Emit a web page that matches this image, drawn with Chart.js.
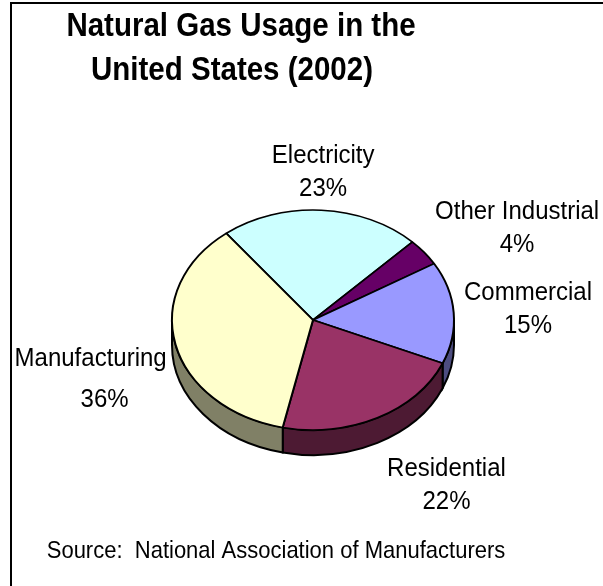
<!DOCTYPE html>
<html>
<head>
<meta charset="utf-8">
<script src="https://cdn.jsdelivr.net/npm/chart.js@4.4.1/dist/chart.umd.min.js"></script>
<style>
  html, body { margin: 0; padding: 0; background: #fff; }
  #wrap { width: 603px; height: 586px; }
</style>
</head>
<body>
<div id="wrap"><canvas id="gasChart" width="603" height="586"></canvas></div>
<script>
// 2002 natural gas usage shares (%)
const categories  = ['Electricity', 'Other Industrial', 'Commercial', 'Residential', 'Manufacturing'];
const shares      = [23, 4, 15, 22, 36];
const sliceColors = ['#CCFFFF', '#660066', '#9999FF', '#993366', '#FFFFCC'];
const titleLines  = ['Natural Gas Usage in the', 'United States (2002)'];
const sourceNote  = 'Source:  National Association of Manufacturers';

const TILT  = 0.78;   // vertical squash of the pie top
const DEPTH = 25;     // pie thickness in px
const FONT  = '"Liberation Sans", Arial, sans-serif';
const TEXT_STRETCH = 1.1;  // the original text is a bit taller than plain Arial

// label nudges relative to a point just outside each slice
const LABEL_REACH = 1.45;
const labelNudge = [
  { dx: -2,  dy: 11 },
  { dx: 43,  dy: 6 },
  { dx: 11,  dy: 0 },
  { dx: 40,  dy: 23 },
  { dx: -23, dy: 24, gap: 41, dx2: 14 }
];

function darker(hex) {
  var n = parseInt(hex.slice(1), 16);
  var r = Math.round(((n >> 16) & 255) / 2), g = Math.round(((n >> 8) & 255) / 2), b = Math.round((n & 255) / 2);
  return 'rgb(' + r + ',' + g + ',' + b + ')';
}

// parts of a slice that face the viewer (lower half of the ellipse)
function sideRanges(s, e) {
  var out = [];
  for (var k = -1; k <= 1; k++) {
    var lo = Math.max(s, 2 * Math.PI * k), hi = Math.min(e, 2 * Math.PI * k + Math.PI);
    if (hi > lo) out.push([lo, hi]);
  }
  return out;
}

function tallText(ctx, text, x, y) {
  ctx.save();
  ctx.translate(x, y);
  ctx.scale(1, TEXT_STRETCH);
  ctx.fillText(text, 0, 0);
  ctx.restore();
}

const pie3d = {
  id: 'pie3d',
  beforeDraw(chart) {
    var ctx = chart.ctx;
    ctx.save();
    ctx.fillStyle = '#fff';
    ctx.fillRect(0, 0, chart.width, chart.height);
    ctx.lineWidth = 2;
    ctx.strokeStyle = '#000';
    ctx.strokeRect(11, 3, 700, 700);
    ctx.restore();
  },
  beforeDatasetsDraw(chart) {
    var ctx = chart.ctx;
    var arcs = chart.getDatasetMeta(0).data;
    var cx = arcs[0].x, cy = arcs[0].y, r = arcs[0].outerRadius, ry = r * TILT;
    arcs.forEach(function(arc, i) {
      sideRanges(arc.startAngle, arc.endAngle).forEach(function(rg) {
        ctx.beginPath();
        ctx.ellipse(cx, cy, r, ry, 0, rg[0], rg[1]);
        ctx.ellipse(cx, cy + DEPTH, r, ry, 0, rg[1], rg[0], true);
        ctx.closePath();
        ctx.fillStyle = darker(sliceColors[i]);
        ctx.fill();
        ctx.lineWidth = 2;
        ctx.strokeStyle = '#000';
        ctx.stroke();
      });
    });
    ctx.save();
    ctx.translate(cx, cy);
    ctx.scale(1, TILT);
    ctx.translate(-cx, -cy);
  },
  afterDatasetsDraw(chart) {
    chart.ctx.restore();
  },
  afterDraw(chart) {
    var ctx = chart.ctx;
    var arcs = chart.getDatasetMeta(0).data;
    var cx = arcs[0].x, cy = arcs[0].y, r = arcs[0].outerRadius, ry = r * TILT;
    ctx.save();
    ctx.fillStyle = '#000';
    ctx.textAlign = 'center';

    // title
    ctx.font = 'bold 29.5px ' + FONT;
    ctx.textBaseline = 'alphabetic';
    tallText(ctx, titleLines[0], 241, 36);
    tallText(ctx, titleLines[1], 232, 80);

    // slice labels
    ctx.font = '24px ' + FONT;
    ctx.textBaseline = 'middle';
    arcs.forEach(function(arc, i) {
      var mid = (arc.startAngle + arc.endAngle) / 2;
      var nd = labelNudge[i];
      var gap = nd.gap || 33;
      var x = cx + r * LABEL_REACH * Math.cos(mid) + nd.dx;
      var y = cy + ry * LABEL_REACH * Math.sin(mid) + nd.dy;
      tallText(ctx, categories[i], x, y - gap / 2);
      tallText(ctx, shares[i] + '%', x + (nd.dx2 || 0), y + gap / 2);
    });

    // source note
    ctx.font = '22px ' + FONT;
    ctx.textBaseline = 'alphabetic';
    tallText(ctx, sourceNote, 276, 558);
    ctx.restore();
  }
};

new Chart(document.getElementById('gasChart'), {
  type: 'pie',
  data: {
    labels: categories,
    datasets: [{
      data: shares,
      backgroundColor: sliceColors,
      borderColor: '#000',
      borderWidth: 2,
      clip: false
    }]
  },
  options: {
    responsive: false,
    animation: false,
    events: [],
    rotation: -38,
    radius: 141,
    layout: { padding: { left: 123, right: 100, top: 150, bottom: 96 } },
    plugins: {
      legend: { display: false },
      title: { display: false },
      tooltip: { enabled: false }
    }
  },
  plugins: [pie3d]
});
</script>
</body>
</html>
